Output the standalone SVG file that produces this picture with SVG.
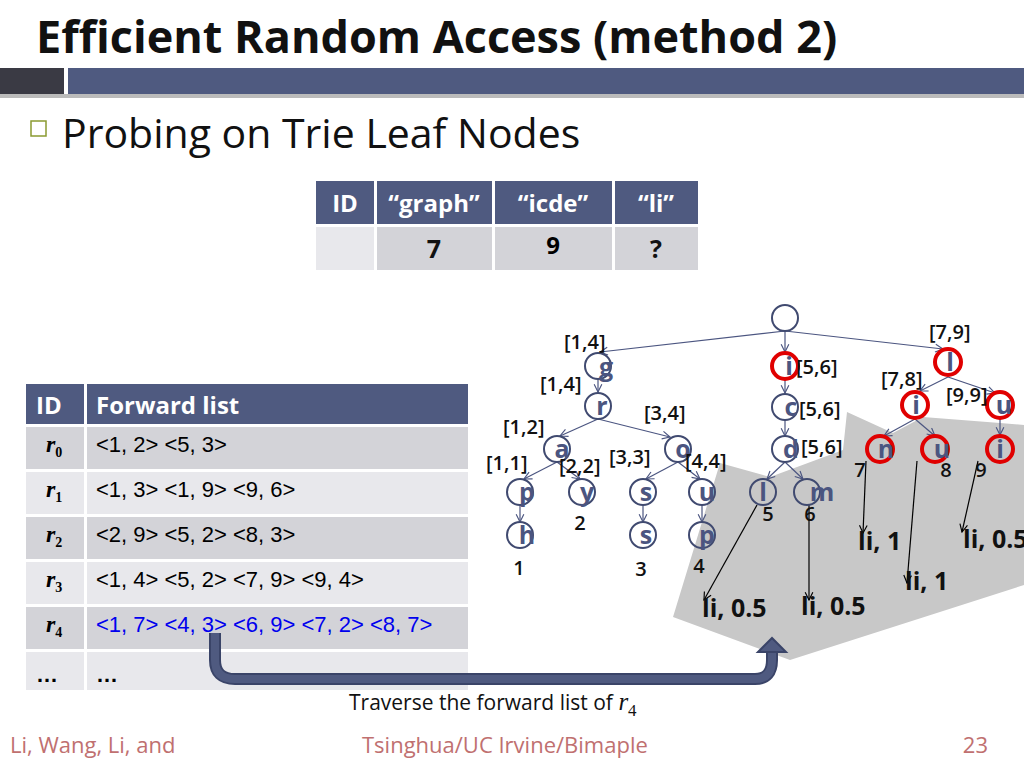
<svg xmlns="http://www.w3.org/2000/svg" width="1024" height="768" viewBox="0 0 1024 768">
<defs>
<marker id="ah" viewBox="0 0 10 10" refX="9" refY="5" markerWidth="8" markerHeight="8" orient="auto"><path d="M1,1 L9,5 L1,9" fill="none" stroke="#4b5580" stroke-width="1.2"/></marker>
<marker id="ahk" viewBox="0 0 10 10" refX="9" refY="5" markerWidth="8" markerHeight="8" orient="auto"><path d="M1,1 L9,5 L1,9" fill="none" stroke="#000" stroke-width="1.2"/></marker>
<style>
text{font-family:"Open Sans","DejaVu Sans",sans-serif}
.hd{fill:#4f5a80}
.g1{fill:#d3d3d8}
.g2{fill:#e8e8ec}
.ht{fill:#fff;font-weight:bold;font-size:24px}
.ct{font-family:"Liberation Sans",sans-serif;font-size:22px;fill:#000}
.id{font-family:"Liberation Serif",serif;font-style:italic;font-weight:bold;font-size:24px}
.sub{font-size:14px;font-style:normal}
.nd{fill:none;stroke:#404a70;stroke-width:2}
.rd{fill:none;stroke:#e00000;stroke-width:4}
.lt{fill:#4b5580;font-weight:bold;font-size:25px}
.lb{font-weight:600;font-size:20px;fill:#111}
.bg{font-weight:bold;font-size:25px;fill:#111}
.e{stroke:#4b5580;stroke-width:1.2;fill:none;marker-end:url(#ah)}
.k{stroke:#000;stroke-width:1.2;fill:none;marker-end:url(#ahk)}
</style>
</defs>
<rect width="1024" height="768" fill="#fff"/>
<text x="36" y="53" font-size="45" font-weight="bold" fill="#111">Efficient Random Access (method 2)</text>
<rect x="0" y="68" width="64" height="26" fill="#3a3a44"/>
<rect x="68" y="68" width="956" height="26" fill="#4f5a80"/>
<rect x="0" y="94" width="1024" height="4" fill="#bbb"/>
<rect x="31" y="121" width="15" height="15" fill="none" stroke="#8a9a30" stroke-width="1.5"/>
<text x="62" y="148" font-size="41" fill="#111">Probing on Trie Leaf Nodes</text>

<g id="toptable">
<rect x="316" y="181" width="58" height="43" class="hd"/>
<rect x="377" y="181" width="115" height="43" class="hd"/>
<rect x="495" y="181" width="117" height="43" class="hd"/>
<rect x="615" y="181" width="83" height="43" class="hd"/>
<rect x="316" y="227" width="58" height="43" class="g2"/>
<rect x="377" y="227" width="115" height="43" class="g1"/>
<rect x="495" y="227" width="117" height="43" class="g1"/>
<rect x="615" y="227" width="83" height="43" class="g1"/>
<text x="345" y="212" class="ht" text-anchor="middle">ID</text>
<text x="434" y="212" class="ht" text-anchor="middle">“graph”</text>
<text x="553" y="212" class="ht" text-anchor="middle">“icde”</text>
<text x="656" y="212" class="ht" text-anchor="middle">“li”</text>
<text x="434" y="258" class="bg" text-anchor="middle">7</text>
<text x="553" y="254" font-family="Liberation Serif,serif" font-weight="bold" font-size="24" text-anchor="middle">9</text>
<text x="656" y="258" class="bg" text-anchor="middle">?</text>
</g>

<g id="fwdtable">
<rect x="26" y="384" width="58" height="40" class="hd"/>
<rect x="87" y="384" width="381" height="40" class="hd"/>
<text x="36" y="414" class="ht">ID</text>
<text x="96" y="414" class="ht">Forward list</text>
<rect x="26" y="427" width="58" height="42" class="g1"/><rect x="87" y="427" width="381" height="42" class="g1"/>
<rect x="26" y="472" width="58" height="42" class="g2"/><rect x="87" y="472" width="381" height="42" class="g2"/>
<rect x="26" y="517" width="58" height="42" class="g1"/><rect x="87" y="517" width="381" height="42" class="g1"/>
<rect x="26" y="562" width="58" height="42" class="g2"/><rect x="87" y="562" width="381" height="42" class="g2"/>
<rect x="26" y="607" width="58" height="42" class="g1"/><rect x="87" y="607" width="381" height="42" class="g1"/>
<rect x="26" y="652" width="58" height="38" class="g2"/><rect x="87" y="652" width="381" height="38" class="g2"/>
<text x="46" y="452" class="id">r<tspan class="sub" dy="5">0</tspan></text>
<text x="46" y="497" class="id">r<tspan class="sub" dy="5">1</tspan></text>
<text x="46" y="542" class="id">r<tspan class="sub" dy="5">2</tspan></text>
<text x="46" y="587" class="id">r<tspan class="sub" dy="5">3</tspan></text>
<text x="46" y="632" class="id">r<tspan class="sub" dy="5">4</tspan></text>
<text x="36" y="682" class="ct" font-weight="bold">…</text>
<text x="96" y="452" class="ct">&lt;1, 2&gt;  &lt;5, 3&gt;</text>
<text x="96" y="497" class="ct">&lt;1, 3&gt;  &lt;1, 9&gt; &lt;9, 6&gt;</text>
<text x="96" y="542" class="ct">&lt;2, 9&gt;  &lt;5, 2&gt; &lt;8, 3&gt;</text>
<text x="96" y="587" class="ct">&lt;1, 4&gt; &lt;5, 2&gt; &lt;7, 9&gt; &lt;9, 4&gt;</text>
<text x="96" y="632" class="ct" style="fill:#0000ee">&lt;1, 7&gt; &lt;4, 3&gt; &lt;6, 9&gt; &lt;7, 2&gt; &lt;8, 7&gt;</text>
<text x="96" y="682" class="ct" font-weight="bold">…</text>
</g>

<polygon id="shade" points="673,617 720,463 770,477 843,450 847,412 893,433 923,417 1000,423 1024,425 1024,585 790,660" fill="#c8c8c8"/>

<g id="connectors">
<line x1="785" y1="331" x2="600" y2="352" class="e"/>
<line x1="785" y1="331" x2="785" y2="352" class="e"/>
<line x1="785" y1="331" x2="943" y2="349" class="e"/>
<line x1="598" y1="379" x2="598" y2="392" class="e"/>
<line x1="598" y1="419" x2="560" y2="436" class="e"/>
<line x1="598" y1="419" x2="670" y2="437" class="e"/>
<line x1="557" y1="462" x2="524" y2="479" class="e"/>
<line x1="557" y1="462" x2="580" y2="479" class="e"/>
<line x1="678" y1="462" x2="646" y2="479" class="e"/>
<line x1="678" y1="462" x2="700" y2="479" class="e"/>
<line x1="520" y1="505" x2="520" y2="522" class="e"/>
<line x1="643" y1="505" x2="643" y2="522" class="e"/>
<line x1="702" y1="505" x2="702" y2="522" class="e"/>
<line x1="785" y1="379" x2="785" y2="393" class="e"/>
<line x1="785" y1="420" x2="785" y2="436" class="e"/>
<line x1="785" y1="462" x2="767" y2="479" class="e"/>
<line x1="785" y1="462" x2="803" y2="479" class="e"/>
<line x1="948" y1="377" x2="920" y2="391" class="e"/>
<line x1="948" y1="377" x2="995" y2="393" class="e"/>
<line x1="915" y1="419" x2="884" y2="436" class="e"/>
<line x1="915" y1="419" x2="935" y2="436" class="e"/>
<line x1="1000" y1="419" x2="1000" y2="435" class="e"/>
<line x1="757" y1="505" x2="704" y2="600" class="k"/>
<line x1="809" y1="505" x2="809" y2="600" class="k"/>
<line x1="866" y1="461" x2="863" y2="533" class="k"/>
<line x1="917" y1="461" x2="907" y2="583" class="k"/>
<line x1="978" y1="461" x2="962" y2="532" class="k"/>
<path d="M215,633 V660 Q215,679 235,679 H755 Q772,679 772,660 V652" fill="none" stroke="#3a4468" stroke-width="12"/>
<path d="M215,633 V660 Q215,679 235,679 H755 Q772,679 772,660 V652" fill="none" stroke="#4f5a80" stroke-width="8"/>
<polygon points="758,652 786,652 772,638" fill="#4f5a80" stroke="#3a4468" stroke-width="2"/>
</g>

<g id="nodes">
<circle cx="785" cy="318" r="13" class="nd"/>
<g id="n-g"><circle cx="598" cy="366" r="13" class="nd"/><text x="606" y="376" class="lt" text-anchor="middle">g</text></g>
<g id="n-r"><circle cx="598" cy="406" r="13" class="nd"/><text x="602" y="415" class="lt" text-anchor="middle">r</text></g>
<g id="n-a"><circle cx="557" cy="449" r="13" class="nd"/><text x="562" y="458" class="lt" text-anchor="middle">a</text></g>
<g id="n-o"><circle cx="678" cy="449" r="13" class="nd"/><text x="683" y="458" class="lt" text-anchor="middle">o</text></g>
<g id="n-p"><circle cx="520" cy="492" r="13" class="nd"/><text x="527" y="501" class="lt" text-anchor="middle">p</text></g>
<g id="n-y"><circle cx="582" cy="492" r="13" class="nd"/><text x="587" y="501" class="lt" text-anchor="middle">y</text></g>
<g id="n-s"><circle cx="643" cy="492" r="13" class="nd"/><text x="646" y="501" class="lt" text-anchor="middle">s</text></g>
<g id="n-u"><circle cx="702" cy="492" r="13" class="nd"/><text x="707" y="501" class="lt" text-anchor="middle">u</text></g>
<g id="n-h"><circle cx="520" cy="535" r="13" class="nd"/><text x="527" y="544" class="lt" text-anchor="middle">h</text></g>
<g id="n-s2"><circle cx="643" cy="535" r="13" class="nd"/><text x="646" y="544" class="lt" text-anchor="middle">s</text></g>
<g id="n-p2"><circle cx="702" cy="535" r="13" class="nd"/><text x="707" y="544" class="lt" text-anchor="middle">p</text></g>
<g id="n-i"><circle cx="785" cy="366" r="13" class="rd"/><text x="789" y="375" class="lt" text-anchor="middle">i</text></g>
<g id="n-c"><circle cx="785" cy="407" r="13" class="nd"/><text x="791" y="416" class="lt" text-anchor="middle">c</text></g>
<g id="n-d"><circle cx="785" cy="449" r="13" class="nd"/><text x="791" y="458" class="lt" text-anchor="middle">d</text></g>
<g id="n-l"><circle cx="763" cy="492" r="13" class="nd"/><text x="763" y="501" class="lt" text-anchor="middle">l</text></g>
<g id="n-m"><circle cx="807" cy="492" r="13" class="nd"/><text x="822" y="501" class="lt" text-anchor="middle">m</text></g>
<g id="n-l2"><circle cx="948" cy="362" r="13" class="rd"/><text x="950" y="371" class="lt" text-anchor="middle">l</text></g>
<g id="n-i2"><circle cx="915" cy="405" r="13" class="rd"/><text x="916" y="414" class="lt" text-anchor="middle">i</text></g>
<g id="n-u2"><circle cx="1000" cy="405" r="13" class="rd"/><text x="1004" y="414" class="lt" text-anchor="middle">u</text></g>
<g id="n-n"><circle cx="880" cy="449" r="13" class="rd"/><text x="886" y="458" class="lt" text-anchor="middle">n</text></g>
<g id="n-u3"><circle cx="935" cy="449" r="13" class="rd"/><text x="942" y="458" class="lt" text-anchor="middle">u</text></g>
<g id="n-i3"><circle cx="1000" cy="449" r="13" class="rd"/><text x="1000" y="458" class="lt" text-anchor="middle">i</text></g>
</g>

<g id="labels">
<text x="564" y="349" class="lb">[1,4]</text>
<text x="540" y="391" class="lb">[1,4]</text>
<text x="503" y="434" class="lb">[1,2]</text>
<text x="644" y="420" class="lb">[3,4]</text>
<text x="486" y="470" class="lb">[1,1]</text>
<text x="559" y="473" class="lb">[2,2]</text>
<text x="609" y="464" class="lb">[3,3]</text>
<text x="685" y="468" class="lb">[4,4]</text>
<text x="796" y="374" class="lb">[5,6]</text>
<text x="799" y="416" class="lb">[5,6]</text>
<text x="801" y="454" class="lb">[5,6]</text>
<text x="929" y="339" class="lb">[7,9]</text>
<text x="881" y="386" class="lb">[7,8]</text>
<text x="946" y="402" class="lb">[9,9]</text>
<text x="519" y="575" class="lb" text-anchor="middle">1</text>
<text x="580" y="530" class="lb" text-anchor="middle">2</text>
<text x="641" y="576" class="lb" text-anchor="middle">3</text>
<text x="699" y="573" class="lb" text-anchor="middle">4</text>
<text x="768" y="521" class="lb" text-anchor="middle">5</text>
<text x="810" y="521" class="lb" text-anchor="middle">6</text>
<text x="860" y="477" class="lb" text-anchor="middle">7</text>
<text x="946" y="477" class="lb" text-anchor="middle">8</text>
<text x="981" y="477" class="lb" text-anchor="middle">9</text>
<text x="702" y="617" class="bg">li, 0.5</text>
<text x="801" y="615" class="bg">li, 0.5</text>
<text x="858" y="550" class="bg">li, 1</text>
<text x="905" y="590" class="bg">li, 1</text>
<text x="963" y="548" class="bg">li, 0.5</text>
</g>

<text x="349" y="710" font-family="DejaVu Sans,sans-serif" font-size="21" fill="#111">Traverse the forward list of <tspan font-family="Liberation Serif,serif" font-style="italic" font-size="25">r</tspan><tspan font-family="Liberation Serif,serif" font-size="17" dy="6">4</tspan></text>
<text x="10" y="753" font-size="22" fill="#c07070">Li, Wang, Li, and</text>
<text x="362" y="753" font-size="22" fill="#c07070">Tsinghua/UC Irvine/Bimaple</text>
<text x="988" y="753" font-size="22" fill="#c07070" text-anchor="end">23</text>
</svg>
